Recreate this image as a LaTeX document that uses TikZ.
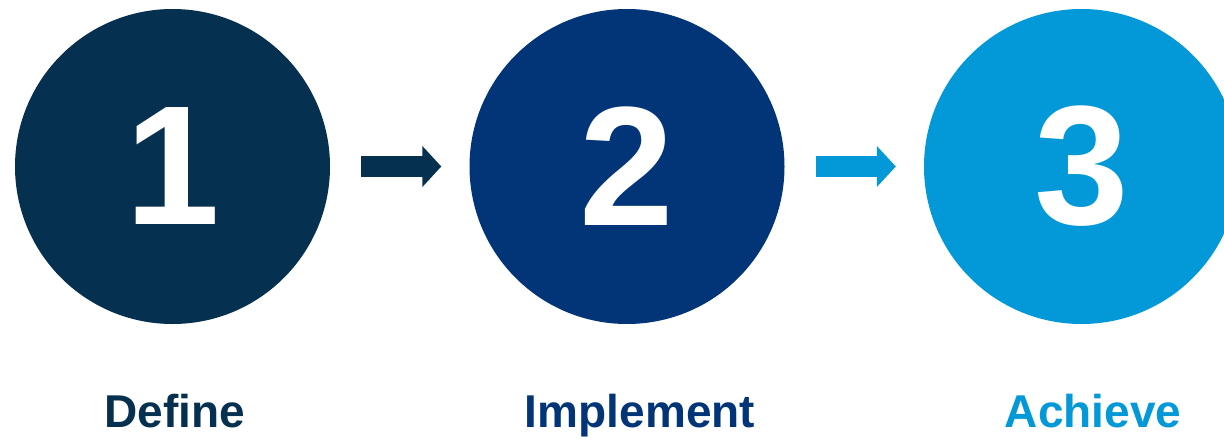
\documentclass[tikz,border=0pt]{standalone}
\usepackage{fontspec}
\setmainfont{Liberation Sans}
\usetikzlibrary{arrows.meta,positioning}

\definecolor{stepnavy}{HTML}{06304F}
\definecolor{stepblue}{HTML}{023577}
\definecolor{stepsky}{HTML}{0399D9}

\begin{document}
\begin{tikzpicture}[
        x=1pt,y=1pt,
        stepcircle/.style={
          circle,
          inner sep=0pt,
          minimum size=315pt,
          text=white,
          font=\bfseries\fontsize{170}{170}\selectfont
          },
        steplabel/.style={
          anchor=base,
          font=\bfseries\fontsize{46}{46}\selectfont
          },
        steparrow/.style={
          line width=21pt,
          -{Triangle[length=19pt,width=40pt]}
          }
        ]
        \useasboundingbox (0,0) rectangle (1224,-442);
        \clip (0,0) rectangle (1224,-442);
        \foreach \cx/\n/\col/\txt/\lx in {172.5/1/stepnavy/Define/175,
                                           627/2/stepblue/Implement/640,
                                           1081.5/3/stepsky/Achieve/1093}
        {
          \node[stepcircle, fill=\col] (step\n) at (\cx,-166.5) {\n};
          \node[steplabel, text=\col] (name\n) at (\lx,-427) {\txt};
        }
        % arrows between the circles
        \draw[steparrow, stepnavy] ([xshift=31pt]step1.east) -- ([xshift=-28pt]step2.west);
        \draw[steparrow, stepsky] ([xshift=31pt]step2.east) -- ([xshift=-28pt]step3.west);
\end{tikzpicture}
\end{document}
